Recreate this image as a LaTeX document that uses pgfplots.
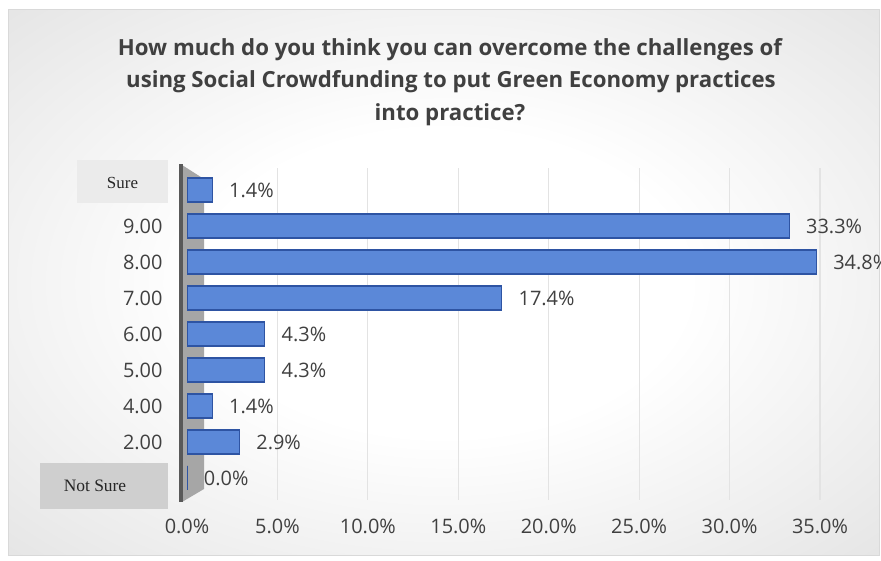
\documentclass[border=0pt]{standalone}
\usepackage{pgfplots}
\pgfplotsset{compat=1.18}
\usepackage{fontspec}
\setmainfont{Open Sans}
\newfontfamily\serif{Liberation Serif}
\definecolor{txt}{HTML}{404040}
\definecolor{barfill}{HTML}{5B88D8}
\definecolor{bardraw}{HTML}{2E54A3}
\pgfdeclareradialshading{bgshade}{\pgfpoint{0bp}{0bp}}{color(0bp)=(white); color(14bp)=(white); color(72bp)=(black!27)}
\begin{document}
\begin{tikzpicture}[x=1bp,y=1bp]
\useasboundingbox (0,0) rectangle (881,561);
\fill[white] (0,0) rectangle (881,561);
\shade[shading=bgshade] (8,5) rectangle (879,551);
\draw[black!15, line width=1bp] (8,5) rectangle (879,551);
% title
\node[font=\bfseries\fontsize{22.3}{26}\selectfont, text=txt, anchor=base] at (450,505) {How much do you think you can overcome the challenges of};
\node[font=\bfseries\fontsize{22.3}{26}\selectfont, text=txt, anchor=base] at (451,473) {using Social Crowdfunding to put Green Economy practices};
\node[font=\bfseries\fontsize{22.3}{26}\selectfont, text=txt, anchor=base] at (450,440) {into practice?};
% wall
\fill[black!35] (182,59) -- (182,396) -- (204,382) -- (204,72) -- cycle;
\draw[line width=4bp, black!65] (181,59) -- (181,397);
% category boxes
\fill[black!8] (77,358) rectangle (168,401);
\node[font=\serif\fontsize{17}{20}\selectfont, text=black!85] at (122.5,378.5) {Sure};
\fill[black!19] (40,52) rectangle (168,98);
\node[font=\serif\fontsize{17.5}{20}\selectfont, text=black!85] at (95,75) {Not Sure};
\begin{axis}[
  at={(187bp,61.4bp)}, anchor=south west,
  scale only axis, width=633bp, height=331.2bp,
  xmin=0, xmax=35, ymin=-0.6, ymax=8.6,
  xbar, bar width=24bp,
  axis line style={draw=none},
  major tick length=0,
  xtick={0,5,...,35},
  ytick={0,...,8},
  yticklabels={,2.00,4.00,5.00,6.00,7.00,8.00,9.00,},
  xticklabel={\pgfmathprintnumber[fixed,fixed zerofill,precision=1]{\tick}\%},
  extra x ticks={5,10,...,35}, extra x tick labels={},
  extra x tick style={grid=major},
  grid style={black!11, line width=1.2bp},
  ticklabel style={font=\fontsize{20}{24}\selectfont, text=txt},
  xticklabel style={yshift=-16bp},
  yticklabel style={xshift=-21bp},
  /pgf/number format/assume math mode=true,
  nodes near coords={\pgfmathprintnumber[fixed,fixed zerofill,precision=1]{\pgfplotspointmeta}\%},
  nodes near coords style={font=\fontsize{20}{24}\selectfont, text=txt, xshift=13bp},
]
\addplot[fill=barfill, draw=bardraw, line width=1.2bp] coordinates {
(0.0,0) (2.9,1) (1.4,2) (4.3,3) (4.3,4) (17.4,5) (34.8,6) (33.3,7) (1.4,8)};
\end{axis}
\end{tikzpicture}
\end{document}
